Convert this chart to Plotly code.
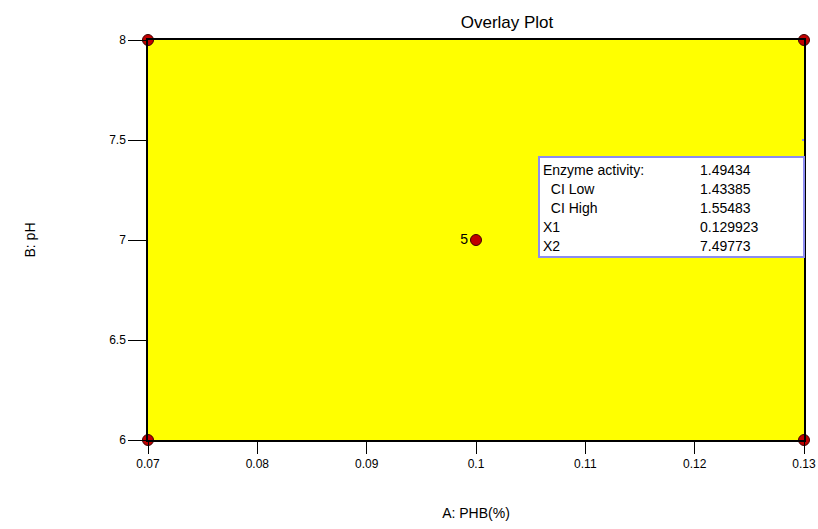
import plotly.graph_objects as go

# Data
design_x = [0.07, 0.07, 0.13, 0.13, 0.10]
design_y = [6, 8, 6, 8, 7]
design_labels = ["", "", "", "", "5"]

x_ticks = [0.07, 0.08, 0.09, 0.10, 0.11, 0.12, 0.13]
x_ticktext = ["0.07", "0.08", "0.09", "0.1", "0.11", "0.12", "0.13"]
y_ticks = [6, 6.5, 7, 7.5, 8]
y_ticktext = ["6", "6.5", "7", "7.5", "8"]

flag_names = ["Enzyme activity:", "  CI Low", "  CI High", "X1", "X2"]
flag_values = ["1.49434", "1.43385", "1.55483", "0.129923", "7.49773"]

FONT = "Liberation Sans Narrow, Arial Narrow, Liberation Sans, Arial"

fig = go.Figure()
fig.add_trace(go.Scatter(
    x=design_x, y=design_y, mode="markers+text",
    text=design_labels, textposition="middle left",
    textfont=dict(size=14, color="black", family="Liberation Sans, Arial"),
    marker=dict(symbol="circle", size=11, color="#c00000",
                line=dict(color="#400000", width=1)),
    cliponaxis=False, hoverinfo="skip", showlegend=False,
))

# flag box (pixel-like placement in paper coords)
W, H = 818, 529
L, R, T, B = 148, 14, 40, 89
pw, ph = W - L - R, H - T - B
def px(x):
    return (x - L) / pw
def py(y):
    return 1 - (y - T) / ph

fig.add_shape(type="rect", xref="paper", yref="paper",
              x0=px(539), x1=px(W - R), y0=py(257), y1=py(157),
              fillcolor="white", line=dict(color="#8c8cf0", width=2), layer="above")
fig.add_shape(type="line", xref="paper", yref="paper",
              x0=px(W - R - 2), x1=px(W - R), y0=py(140), y1=py(140),
              line=dict(color="#8c8cf0", width=2))

row_y = [170, 189, 208, 227, 246]
for name, val, yy in zip(flag_names, flag_values, row_y):
    fig.add_annotation(xref="paper", yref="paper", x=px(541), y=py(yy),
                       text=name.replace(" ", "&nbsp;"), showarrow=False,
                       xanchor="left", yanchor="middle",
                       font=dict(size=14, family=FONT, color="black"))
    fig.add_annotation(xref="paper", yref="paper", x=px(698), y=py(yy),
                       text=val, showarrow=False,
                       xanchor="left", yanchor="middle",
                       font=dict(size=14, family=FONT, color="black"))

fig.update_layout(
    width=W, height=H,
    margin=dict(l=L, r=R, t=T, b=B, autoexpand=False),
    paper_bgcolor="white", plot_bgcolor="#ffff00",
    title=dict(text="Overlay Plot", x=(507) / W, xanchor="center",
               y=1 - 22 / H, yanchor="middle",
               font=dict(size=17, family=FONT, color="black")),
    font=dict(family=FONT, color="black", size=12),
    xaxis=dict(range=[0.07, 0.13 + 1e-9], tickvals=x_ticks, ticktext=x_ticktext,
               showgrid=False, zeroline=False, showline=True, mirror=True,
               linecolor="black", linewidth=1.5, automargin=False,
               ticks="outside", ticklen=12, tickcolor="black", tickwidth=1,
               tickfont=dict(size=12, family=FONT),
               ticklabeloverflow="allow",
               title=dict(text="A: PHB(%)", standoff=38,
                          font=dict(size=14, family=FONT))),
    yaxis=dict(range=[6, 8], tickvals=y_ticks, ticktext=y_ticktext,
               showgrid=False, zeroline=False, showline=True, mirror=True,
               linecolor="black", linewidth=1.5, automargin=False,
               ticks="outside", ticklen=18, tickcolor="black", tickwidth=1,
               tickfont=dict(size=12, family=FONT),
               title=dict(text="B: pH", standoff=70,
                          font=dict(size=14, family="Liberation Sans, Arial"))),
)

fig.write_html("out.html")
